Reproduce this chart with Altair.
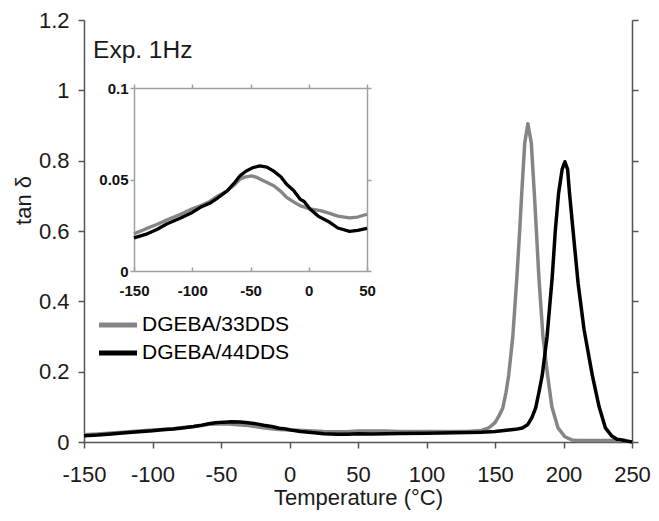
import altair as alt
import pandas as pd

# ---- data ----
series_names = ["DGEBA/33DDS", "DGEBA/44DDS"]
series_colors = ["#858585", "#000000"]

t_33 = [-150, -140, -130, -122, -110, -100, -93, -85, -78, -70, -64, -59, -54, -49, -44, -38,
        -30, -24, -19, -13, -7.5, 1, 10, 18, 25, 35, 42, 50, 60, 70, 80, 90, 100, 110, 120, 130,
        140, 145.5, 150, 153, 155.7, 158, 160, 163, 166, 168, 169.5, 171.7, 174, 176.5, 178.7,
        180.5, 182, 185, 188.4, 191.5, 196, 201, 206, 210, 225, 240]
v_33 = [0.0203, 0.023, 0.0255, 0.0279, 0.031, 0.034, 0.0357, 0.038, 0.041, 0.0438, 0.047, 0.0502,
        0.0515, 0.052, 0.051, 0.049, 0.0466, 0.0435, 0.0402, 0.0378, 0.0357, 0.0339, 0.033, 0.0315,
        0.030, 0.029, 0.0295, 0.031, 0.031, 0.031, 0.030, 0.030, 0.030, 0.030, 0.030, 0.030,
        0.033, 0.040, 0.055, 0.075, 0.097, 0.14, 0.19, 0.30, 0.47, 0.60, 0.707, 0.85, 0.905, 0.85, 0.707,
        0.58, 0.47, 0.30, 0.19, 0.10, 0.04, 0.015, 0.006, 0.004, 0.004, 0.004]

t_44 = [-150, -140, -130, -122, -110, -100, -93, -85, -78, -70, -64, -59, -54, -48, -42, -36,
        -30.4, -24, -19, -13, -7.5, -4, 1.1, 8, 18, 25, 35, 42, 50, 60, 80, 100, 120, 140, 150,
        160, 165, 170, 174, 177, 179.7, 182, 184.5, 188, 191.8, 194, 196.4, 199, 201, 203, 204.4,
        207, 210.7, 215, 221, 226, 230.6, 235, 239, 245, 250]
v_44 = [0.0181, 0.020, 0.0228, 0.0257, 0.029, 0.032, 0.0348, 0.037, 0.040, 0.0438, 0.048, 0.052,
        0.0545, 0.0565, 0.0574, 0.0568, 0.0547, 0.0515, 0.0474, 0.044, 0.0393, 0.038, 0.0339, 0.030,
        0.0266, 0.0235, 0.0217, 0.0222, 0.0233, 0.023, 0.024, 0.025, 0.026, 0.028, 0.030,
        0.034, 0.036, 0.040, 0.050, 0.070, 0.097, 0.14, 0.19, 0.30, 0.47, 0.60, 0.707, 0.775, 0.797, 0.775, 0.707,
        0.60, 0.45, 0.32, 0.19, 0.10, 0.04, 0.018, 0.008, 0.004, 0.0]

main_x_ticks = [-150, -100, -50, 0, 50, 100, 150, 200, 250]
main_y_ticks = [0, 0.2, 0.4, 0.6, 0.8, 1.0, 1.2]
inset_x_ticks = [-150, -100, -50, 0, 50]
inset_y_ticks = [0, 0.05, 0.1]
note_text = ["Exp. 1Hz"]
note_x = [-143.4]
note_y = [1.093]

df = pd.concat([
    pd.DataFrame({"T": t_33, "V": v_33, "series": series_names[0], "order": range(len(t_33))}),
    pd.DataFrame({"T": t_44, "V": v_44, "series": series_names[1], "order": range(len(t_44))}),
])
df_inset = df[df["T"] <= 50]
notes = pd.DataFrame({"T": note_x, "V": note_y, "text": note_text})

# ---- layout ----
W, H = 548, 422
IX = [50, 283]     # inset x range in plot pixels
IY = [251, 68]     # inset y range in plot pixels
FONT = "Liberation Sans, Arial, sans-serif"
MAIN_AX = "#555555"
INSET_AX = "#a0a0a0"
PLAIN_LABEL = "'' + datum.value"

color_enc = alt.Color(
    "series:N",
    scale=alt.Scale(domain=series_names, range=series_colors),
    legend=alt.Legend(
        title=None, orient="none", legendX=12.5, legendY=291, padding=0,
        symbolType="stroke", symbolSize=1444, symbolStrokeWidth=5,
        labelFontSize=21, labelFont=FONT, labelColor="#000000", labelOffset=2.5,
        clipHeight=28, rowPadding=0,
    ),
)

main_xscale = alt.Scale(domain=[-150, 250], nice=False, zero=False)
main_yscale = alt.Scale(domain=[0, 1.2], nice=False, zero=False)

main_lines = alt.Chart(df).mark_line(strokeWidth=3.5, strokeJoin="round").encode(
    x=alt.X("T:Q", scale=main_xscale, axis=alt.Axis(
        orient="bottom", values=main_x_ticks, title="Temperature (°C)", grid=False,
        labelExpr=PLAIN_LABEL,
        tickSize=6, labelPadding=16, labelFontSize=22, labelFont=FONT, labelColor="#1a1a1a",
        titleFontSize=22, titleFont=FONT, titleFontWeight="normal", titleColor="#1a1a1a",
        titlePadding=2, domainColor=MAIN_AX, tickColor=MAIN_AX, domainWidth=1.5, tickWidth=1.5,
        labelFlush=False)),
    y=alt.Y("V:Q", scale=main_yscale, axis=alt.Axis(
        orient="left", values=main_y_ticks, title="tan δ", grid=False, labelExpr=PLAIN_LABEL,
        tickSize=6, labelPadding=9, labelFontSize=22, labelFont=FONT, labelColor="#1a1a1a",
        titleFontSize=22, titleFont=FONT, titleFontWeight="normal", titleColor="#1a1a1a",
        titlePadding=3, titleY=180, domainColor=MAIN_AX, tickColor=MAIN_AX,
        domainWidth=1.5, tickWidth=1.5, labelFlush=False)),
    color=color_enc,
    order="order:Q",
)

note = alt.Chart(notes).mark_text(align="left", baseline="alphabetic", fontSize=24.5,
                                  font=FONT, color="#1a1a1a").encode(
    x=alt.X("T:Q", scale=main_xscale), y=alt.Y("V:Q", scale=main_yscale), text="text:N")

group_main = alt.layer(main_lines, note)

main_right = alt.Chart(df).mark_line(opacity=0).encode(
    x=alt.X("T:Q", scale=main_xscale, axis=None),
    y=alt.Y("V:Q", scale=main_yscale, axis=alt.Axis(
        orient="right", values=main_y_ticks, labels=False, title=None, grid=False,
        tickSize=6, domainColor=MAIN_AX, tickColor=MAIN_AX, domainWidth=1.5, tickWidth=1.5)),
)

inset_xscale = alt.Scale(domain=[-150, 50], range=IX, nice=False, zero=False)
inset_yscale = alt.Scale(domain=[0, 0.1], range=IY, nice=False, zero=False)

inset_lines = alt.Chart(df_inset).mark_line(strokeWidth=3.3, strokeJoin="round").encode(
    x=alt.X("T:Q", scale=inset_xscale, axis=alt.Axis(
        orient="bottom", offset=-(H - IY[0]), values=inset_x_ticks, title=None, grid=False,
        labelExpr=PLAIN_LABEL,
        ticks=False, tickSize=0, labelPadding=12, labelFontSize=15, labelFontWeight="bold",
        labelFont=FONT, labelColor="#111111", domainColor=INSET_AX, domainWidth=1.5,
        labelFlush=False)),
    y=alt.Y("V:Q", scale=inset_yscale, axis=alt.Axis(
        orient="left", offset=-IX[0], values=inset_y_ticks, title=None, grid=False,
        labelExpr=PLAIN_LABEL,
        tickSize=4, labelPadding=2, labelFontSize=15, labelFontWeight="bold", labelFont=FONT,
        labelColor="#111111", domainColor=INSET_AX, tickColor=INSET_AX, domainWidth=1.5,
        tickWidth=1.5, labelFlush=False)),
    color=color_enc,
    order="order:Q",
)

inset_frame = alt.Chart(df_inset).mark_line(opacity=0).encode(
    x=alt.X("T:Q", scale=inset_xscale, axis=alt.Axis(
        orient="top", offset=-IY[1], values=inset_x_ticks, labels=False, title=None, grid=False,
        tickSize=4, domainColor=INSET_AX, tickColor=INSET_AX, domainWidth=1.5, tickWidth=1.5)),
    y=alt.Y("V:Q", scale=inset_yscale, axis=alt.Axis(
        orient="right", offset=-(W - IX[1]), values=inset_y_ticks, labels=False, title=None,
        grid=False, tickSize=4, domainColor=INSET_AX, tickColor=INSET_AX, domainWidth=1.5,
        tickWidth=1.5)),
)

inset_bottom_ticks = alt.Chart(df_inset).mark_line(opacity=0).encode(
    x=alt.X("T:Q", scale=inset_xscale, axis=alt.Axis(
        orient="top", offset=-IY[0], values=inset_x_ticks, labels=False, title=None, grid=False,
        domain=False, tickSize=4, tickColor=INSET_AX, tickWidth=1.5)),
    y=alt.Y("V:Q", scale=inset_yscale, axis=None),
)

chart = alt.layer(group_main, main_right, inset_lines, inset_frame, inset_bottom_ticks).resolve_scale(
    x="independent", y="independent"
).properties(
    width=W, height=H,
    autosize=alt.AutoSizeParams(type="none"),
    padding={"left": 76, "top": 12, "right": 19, "bottom": 71},
    background="white",
).configure_view(stroke=None)

chart.save("out.html", embed_options={"renderer": "svg", "actions": False})
